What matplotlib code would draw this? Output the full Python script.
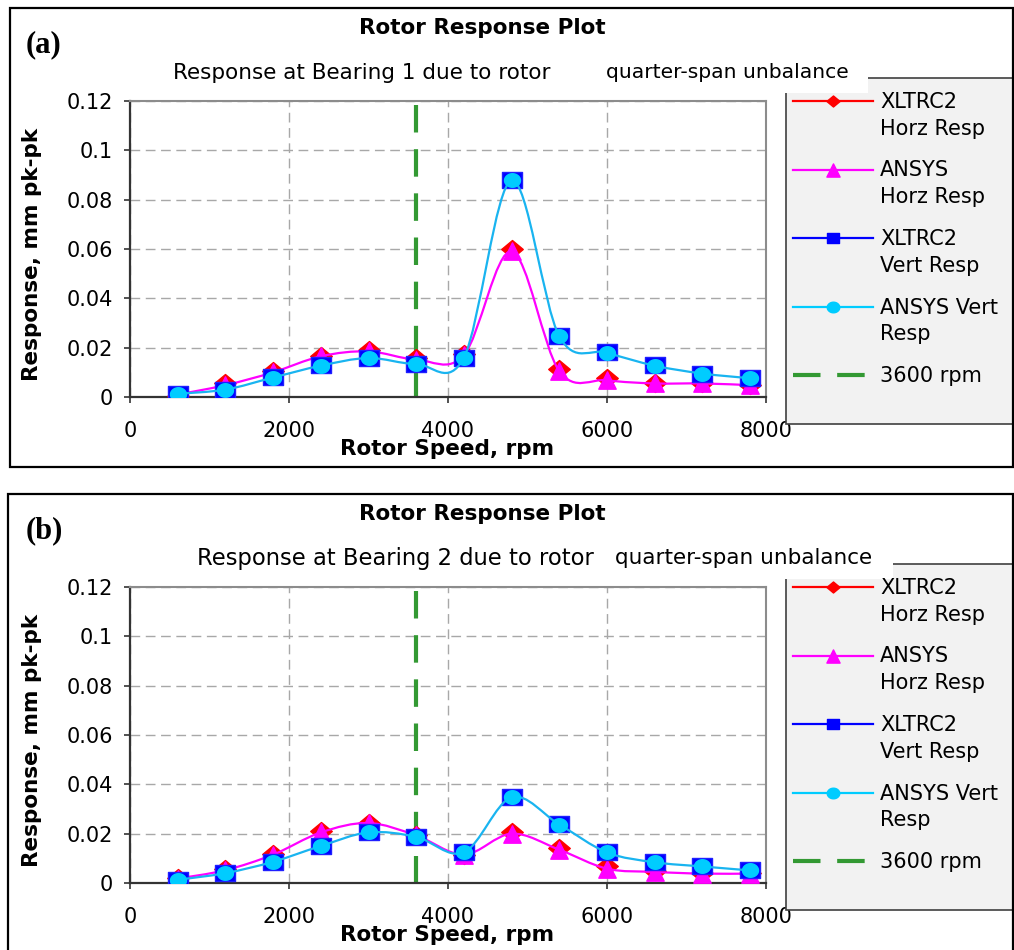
import numpy as np
import matplotlib
matplotlib.use("Agg")
import matplotlib.pyplot as plt
from matplotlib.path import Path
from matplotlib.patches import PathPatch, Rectangle
from matplotlib.lines import Line2D

# ---------------------------------------------------------------- data
speed = [600, 1200, 1800, 2400, 3000, 3600, 4200, 4800, 5400, 6000, 6600, 7200, 7800]

# Bearing 1 (mm pk-pk)
xltrc_horz_b1 = [0.0005, 0.0055, 0.0105, 0.0168, 0.0190, 0.0158, 0.0175, 0.0600, 0.0115, 0.0077, 0.0058, 0.0055, 0.0050]
ansys_horz_b1 = [0.0010, 0.0048, 0.0100, 0.0165, 0.0185, 0.0152, 0.0170, 0.0590, 0.0105, 0.0068, 0.0055, 0.0055, 0.0048]
xltrc_vert_b1 = [0.0013, 0.0030, 0.0080, 0.0128, 0.0160, 0.0135, 0.0160, 0.0880, 0.0248, 0.0182, 0.0128, 0.0095, 0.0077]
ansys_vert_b1 = [0.0013, 0.0030, 0.0079, 0.0127, 0.0158, 0.0134, 0.0160, 0.0878, 0.0246, 0.0180, 0.0127, 0.0095, 0.0076]

# Bearing 2 (mm pk-pk)
xltrc_horz_b2 = [0.0022, 0.0057, 0.0118, 0.0210, 0.0245, 0.0195, 0.0113, 0.0207, 0.0143, 0.0067, 0.0047, 0.0040, 0.0040]
ansys_horz_b2 = [0.0018, 0.0052, 0.0115, 0.0205, 0.0243, 0.0193, 0.0115, 0.0200, 0.0135, 0.0058, 0.0045, 0.0038, 0.0038]
xltrc_vert_b2 = [0.0013, 0.0040, 0.0087, 0.0150, 0.0207, 0.0188, 0.0125, 0.0350, 0.0238, 0.0125, 0.0085, 0.0068, 0.0052]
ansys_vert_b2 = [0.0013, 0.0040, 0.0086, 0.0150, 0.0205, 0.0187, 0.0124, 0.0347, 0.0237, 0.0124, 0.0084, 0.0067, 0.0051]

rated_speed = 3600
x_ticks = [0, 2000, 4000, 6000, 8000]
y_ticks = [0, 0.02, 0.04, 0.06, 0.08, 0.1, 0.12]
y_tick_labels = ["0", "0.02", "0.04", "0.06", "0.08", "0.1", "0.12"]
series_labels = [("XLTRC2", "Horz Resp"), ("ANSYS", "Horz Resp"),
                 ("XLTRC2", "Vert Resp"), ("ANSYS Vert", "Resp"), ("3600 rpm", "")]

# ---------------------------------------------------------------- styling
W, H = 1014, 950
plt.rcParams["font.family"] = ["DejaVu Sans"]

RED, MAGENTA, BLUE, CYAN, CYAN_LINE, GREEN = "#ff0000", "#ff00ff", "#0000ff", "#00ccff", "#19b4f0", "#339933"


def fx(px):
    return px / W


def fy(py):
    return 1 - py / H


def closed(verts):
    verts = [tuple(v) for v in verts]
    return Path(verts + [verts[0]],
                [Path.MOVETO] + [Path.LINETO] * (len(verts) - 1) + [Path.CLOSEPOLY])


DIAMOND = closed([(0, -1), (1.2, 0), (0, 1), (-1.2, 0)])
TRIANGLE = closed([(0, 1), (-1, -1), (1, -1)])
SQUARE = closed([(-1.2, -1), (1.2, -1), (1.2, 1), (-1.2, 1)])
_t = np.linspace(0, 2 * np.pi, 48, endpoint=False)
ELLIPSE = closed(list(zip(1.18 * np.cos(_t), np.sin(_t))))


def smooth_path(xs, ys):
    """Spreadsheet-style smoothed line: cubic Bezier through every point."""
    p = np.column_stack([xs, ys]).astype(float)
    n = len(p)
    verts, codes = [p[0]], [Path.MOVETO]
    for i in range(n - 1):
        prev = p[i - 1] if i > 0 else p[i]
        nxt = p[i + 2] if i + 2 < n else p[i + 1]
        verts += [p[i] + (p[i + 1] - prev) / 6, p[i + 1] - (nxt - p[i]) / 6, p[i + 1]]
        codes += [Path.CURVE4] * 3
    return Path(verts, codes)


fig = plt.figure(figsize=(W / 100, H / 100), dpi=100)


def draw_panel(off, tag, bearing, xh, ah, xv, av, sub_x, sub_fs, q_x, q_fs, box_right, frame_x):
    top_px, bot_px = 101 + off, 397 + off
    ax = fig.add_axes([fx(130), fy(bot_px), fx(766) - fx(130), (bot_px - top_px) / H])
    ax.set_xlim(0, 8000)
    ax.set_ylim(0, 0.12)
    ax.set_xticks(x_ticks)
    ax.set_yticks(y_ticks)
    ax.set_yticklabels(y_tick_labels)
    ax.grid(True, color="#a8a8a8", linestyle=(0, (7, 4)), linewidth=1.0)
    ax.set_axisbelow(True)
    for side in ("top", "right"):
        ax.spines[side].set_color("#8c8c8c")
        ax.spines[side].set_linewidth(1.5)
    for side in ("left", "bottom"):
        ax.spines[side].set_color("#333333")
        ax.spines[side].set_linewidth(1.6)
    ax.tick_params(axis="both", direction="out", length=4.5, width=1.2,
                   color="#333333", labelsize=15)
    ax.tick_params(axis="x", pad=12.5)
    ax.tick_params(axis="y", pad=8)

    # series
    ax.plot(speed, xh, ls="none", marker=DIAMOND, ms=15.5, color=RED, mec=RED, zorder=3)
    ax.add_patch(PathPatch(smooth_path(speed, ah), fill=False, ec=MAGENTA, lw=1.6, zorder=3))
    ax.plot(speed, ah, ls="none", marker=TRIANGLE, ms=12.5, color=MAGENTA, mec=MAGENTA, zorder=3)
    ax.plot(speed, xv, ls="none", marker=SQUARE, ms=14.2, color=BLUE, mec="#2020ff", zorder=3)
    ax.add_patch(PathPatch(smooth_path(speed, av), fill=False, ec=CYAN_LINE, lw=1.6, zorder=3))
    ax.plot(speed, av, ls="none", marker=ELLIPSE, ms=11.5, color=CYAN, mec=CYAN, zorder=3)
    ax.axvline(rated_speed, ymin=0.986, ymax=0, color=GREEN, lw=3,
               ls=(0, (6.6, 4)), zorder=2.5)

    ax.set_xlabel("Rotor Speed, rpm", fontsize=15.5, fontweight="bold")
    ax.xaxis.set_label_coords(0.498, -0.176)
    ax.xaxis.label.set_va("center")
    ax.set_ylabel("Response, mm pk-pk", fontsize=15.5, fontweight="bold")
    ax.yaxis.set_label_coords(-0.154, 0.48)
    ax.yaxis.label.set_va("center")

    # titles
    fig.text(fx(482), fy(28 + off), "Rotor Response Plot", ha="center", va="center",
             fontsize=15.5, fontweight="bold")
    fig.text(fx(26), fy(45 + off), tag, ha="left", va="center", fontsize=22,
             fontweight="bold", family=["Liberation Serif", "DejaVu Serif"])
    fig.text(fx(sub_x), fy(73 + off), f"Response at Bearing {bearing} due to rotor",
             ha="left", va="center", fontsize=sub_fs)

    # legend frame
    lg_top, lg_bot = 78 + off, 424 + off
    fig.add_artist(Rectangle((fx(786), fy(lg_bot)), fx(1200) - fx(786), (lg_bot - lg_top) / H,
                             transform=fig.transFigure, facecolor="#f2f2f2",
                             edgecolor="#404040", lw=1.2, zorder=1))
    fig.add_artist(Rectangle((fx(590), fy(93 + off)), fx(box_right) - fx(590), 38 / H,
                             transform=fig.transFigure, facecolor="white",
                             edgecolor="none", zorder=1.5))
    fig.text(fx(q_x), fy(72 + off), "quarter-span unbalance", ha="left", va="center",
             fontsize=q_fs, zorder=2)

    styles = [
        dict(color=RED, marker=DIAMOND, ms=9.5, ls="-"),
        dict(color=MAGENTA, marker=TRIANGLE, ms=9.5, ls="-"),
        dict(color=BLUE, marker=SQUARE, ms=9.0, ls="-"),
        dict(color=CYAN, marker=ELLIPSE, ms=9.0, ls="-"),
        dict(color=GREEN, marker=None, ms=0, ls=(0, (6.6, 4))),
    ]
    for i, ((l1, l2), st) in enumerate(zip(series_labels, styles)):
        yc = 101 + off + i * 68.5
        lw = 3 if st["marker"] is None else 1.6
        fig.add_artist(Line2D([fx(793), fx(833), fx(873)], [fy(yc)] * 3,
                              transform=fig.transFigure, color=st["color"], lw=lw,
                              ls=st["ls"], marker=st["marker"], ms=st["ms"],
                              markevery=[1], mec=st["color"], zorder=2))
        fig.text(fx(880), fy(yc + 7), l1, ha="left", va="baseline", fontsize=15, zorder=2)
        if l2:
            fig.text(fx(880), fy(yc + 7 + 26.7), l2, ha="left", va="baseline",
                     fontsize=15, zorder=2)

    # outer frame
    x0, y0 = frame_x, 8 + off
    fig.add_artist(Rectangle((fx(x0), fy(y0 + 459)), fx(1013) - fx(x0), 459 / H,
                             transform=fig.transFigure, fill=False, edgecolor="black",
                             lw=1.6, zorder=5))
    return ax


draw_panel(0, "(a)", 1, xltrc_horz_b1, ansys_horz_b1, xltrc_vert_b1, ansys_vert_b1,
           sub_x=173, sub_fs=15.5, q_x=606, q_fs=14.6, box_right=868, frame_x=10)
draw_panel(486, "(b)", 2, xltrc_horz_b2, ansys_horz_b2, xltrc_vert_b2, ansys_vert_b2,
           sub_x=197, sub_fs=16.3, q_x=615, q_fs=15.5, box_right=893, frame_x=8)

fig.savefig("out.png", dpi=100)
